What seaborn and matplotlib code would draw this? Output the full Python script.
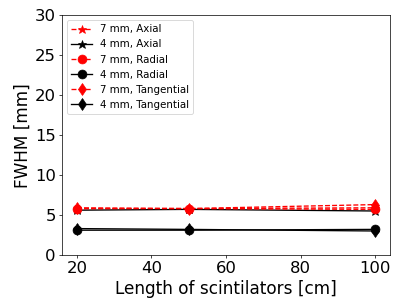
import pandas as pd
import seaborn as sns
import matplotlib
matplotlib.use('Agg')
import matplotlib.pyplot as plt

lengths = [20, 50, 100]

ax_7mm = [5.8, 5.8, 5.9]
ax_4mm = [5.6, 5.7, 5.5]
rad_7mm = [5.8, 5.8, 5.7]
rad_4mm = [3.1, 3.1, 3.2]
tan_7mm = [5.9, 5.8, 6.3]
tan_4mm = [3.3, 3.2, 3.0]

series = [
    ('7 mm, Axial', ax_7mm, 'red', '--', '*'),
    ('4 mm, Axial', ax_4mm, 'black', '-', '*'),
    ('7 mm, Radial', rad_7mm, 'red', '--', 'o'),
    ('4 mm, Radial', rad_4mm, 'black', '-', 'o'),
    ('7 mm, Tangential', tan_7mm, 'red', '--', 'd'),
    ('4 mm, Tangential', tan_4mm, 'black', '-', 'd'),
]

# drawn at 6.4x4.8 in and a low dpi, so it comes out at 411x308
fig = plt.figure(figsize=(6.4, 4.8), dpi=64.2)
ax = fig.add_axes([0.151, 0.172, 0.798, 0.779])

for name, vals, col, ls, mk in series:
    df = pd.DataFrame({'length': lengths, 'fwhm': vals})
    sns.lineplot(data=df, x='length', y='fwhm', ax=ax, color=col,
                 linestyle=ls, marker=mk, markersize=10,
                 markeredgecolor=col, label=name)

ax.set_ylim(0, 30)
ax.set_xticks([20, 40, 60, 80, 100])
ax.set_yticks([0, 5, 10, 15, 20, 25, 30])
ax.set_xlabel('Length of scintilators [cm]', fontsize=19)
ax.set_ylabel('FWHM [mm]', fontsize=19)
ax.tick_params(labelsize=18.5)
ax.legend(loc='upper left', fontsize=11.5)

fig.savefig('out.png', dpi=64.2)
